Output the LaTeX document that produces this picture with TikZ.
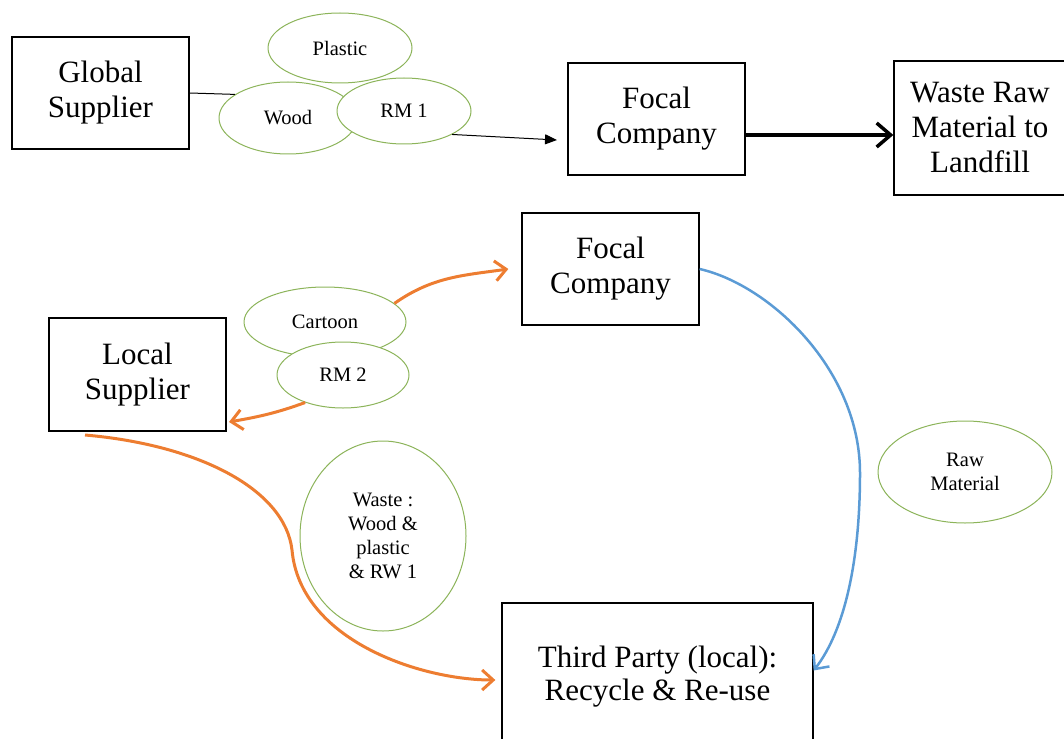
\documentclass[tikz,border=0pt]{standalone}
\usepackage{fontspec}
\setmainfont{Liberation Serif}
\usetikzlibrary{shapes.geometric,arrows.meta}
\definecolor{ellgreen}{RGB}{140,180,90}
\definecolor{arrorange}{RGB}{237,125,49}
\definecolor{arrblue}{RGB}{91,155,213}
\begin{document}
\begin{tikzpicture}[x=1pt,y=1pt,
  box/.style={draw=black, line width=1.3pt, rectangle, inner sep=0pt, align=center,
    font=\fontsize{31}{35}\selectfont},
  bubble/.style={draw=ellgreen, fill=white, line width=1pt, ellipse, inner sep=0pt, align=center,
    font=\fontsize{20.5}{24}\selectfont},
  orangearrow/.style={draw=arrorange, line width=3pt, -{Straight Barb[length=11pt,width=20pt]}},
  bluearrow/.style={draw=arrblue, line width=2.5pt, -{Straight Barb[length=11pt,width=20pt]}},
  thickarrow/.style={draw=black, line width=3.5pt, -{Straight Barb[length=14pt,width=24pt]}},
  thinarrow/.style={draw=black, line width=1pt, -{Triangle[length=12pt,width=10pt]}},
  thinline/.style={draw=black, line width=1pt}
]
\useasboundingbox (0,0) rectangle (1064,-738);

% boxes
\node[box, minimum width=177pt, minimum height=112pt] (gs) at (100.5,-93) {Global\\Supplier};
\node[box, minimum width=177pt, minimum height=112pt] (f1) at (656.5,-119) {Focal\\Company};
\node[box, minimum width=172pt, minimum height=134pt] (wl) at (980,-128) {Waste Raw\\Material to\\Landfill};
\node[box, minimum width=177pt, minimum height=112pt] (f2) at (610.5,-269) {Focal\\Company};
\node[box, minimum width=177pt, minimum height=113pt] (ls) at (137.5,-374.5) {Local\\Supplier};
\node[box, minimum width=311pt, minimum height=147pt, font=\fontsize{31}{33}\selectfont] (tp) at (657.5,-676.5) {Third Party (local):\\Recycle \& Re-use};

% bubbles
\node[bubble, minimum width=144pt, minimum height=70pt] (plastic) at (340,-48) {Plastic};
\node[bubble, minimum width=138pt, minimum height=72pt] (wood) at (288,-118) {Wood};
\node[bubble, minimum width=134pt, minimum height=66pt] (rm1) at (404,-111) {RM 1};
\node[bubble, minimum width=162pt, minimum height=70pt] (cartoon) at (325,-322) {Cartoon};
\node[bubble, minimum width=132pt, minimum height=66pt] (rm2) at (343,-375) {RM 2};
\node[bubble, minimum width=166pt, minimum height=190pt] (waste) at (383,-536) {Waste :\\Wood \&\\plastic\\\& RW 1};
\node[bubble, minimum width=174pt, minimum height=102pt] (raw) at (965,-472) {Raw\\Material};

% free ends
\coordinate (t1) at (557,-140);
\coordinate (t2) at (229,-422);
\coordinate (s3) at (85,-435);

% connectors
\draw[thinline] (gs.east) -- (wood.156);
\draw[thinarrow] (rm1.-26) -- (t1);
\draw[thickarrow] ([yshift=-16pt]f1.east) -- ([yshift=-7pt]wl.west);
\draw[orangearrow] (cartoon.15) to[out=35,in=188] ([xshift=-13pt]f2.west);
\draw[orangearrow] (rm2.216) to[out=200,in=10] (t2);
\draw[orangearrow] (s3) .. controls (200,-445) and (285,-490) .. (292,-550)
  .. controls (300,-640) and (420,-680) .. ([xshift=-6pt,yshift=-3.5pt]tp.west);
\draw[bluearrow] (f2.east) .. controls (770,-285) and (860,-370) .. (860,-473)
  .. controls (860,-560) and (845,-630) .. ([yshift=6pt]tp.east);
\end{tikzpicture}
\end{document}
